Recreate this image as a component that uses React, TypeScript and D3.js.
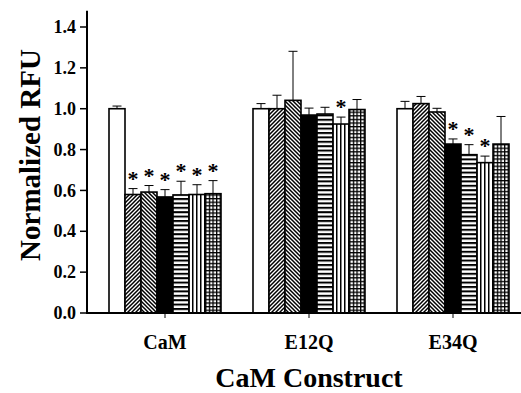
import React from "react";
import * as d3 from "d3";

const categories = ["CaM", "E12Q", "E34Q"];
const seriesIds = ["control", "s2", "s3", "s4", "s5", "s6", "s7"];
const seriesFill = ["white", "url(#diagUp)", "url(#diagDown)", "black", "url(#horiz)", "url(#vert)", "url(#grid)"];

const valuesCaM = [1.0, 0.58, 0.592, 0.568, 0.578, 0.58, 0.584];
const valuesE12Q = [1.0, 1.0, 1.041, 0.969, 0.974, 0.925, 0.996];
const valuesE34Q = [1.0, 1.025, 0.984, 0.827, 0.775, 0.736, 0.827];

const errCaM = [0.013, 0.029, 0.032, 0.036, 0.067, 0.048, 0.064];
const errE12Q = [0.025, 0.066, 0.24, 0.034, 0.033, 0.034, 0.049];
const errE34Q = [0.036, 0.035, 0.018, 0.025, 0.049, 0.032, 0.135];

const sigCaM = [false, true, true, true, true, true, true];
const sigE12Q = [false, false, false, false, false, true, false];
const sigE34Q = [false, false, false, true, true, true, false];

const yTicks = [0, 0.2, 0.4, 0.6, 0.8, 1.0, 1.2, 1.4];

const values = [valuesCaM, valuesE12Q, valuesE34Q];
const errs = [errCaM, errE12Q, errE34Q];
const sigs = [sigCaM, sigE12Q, sigE34Q];

const W = 521;
const H = 393;
const axisX = 87;
const font = "'Liberation Serif', 'Times New Roman', serif";

export default function App() {
  const y = d3.scaleLinear().domain([0, 1.4]).range([313, 27]);
  const x0 = d3.scaleBand<string>().domain(categories).range([93, 525]);
  const x1 = d3
    .scaleBand<string>()
    .domain(seriesIds)
    .range([0, x0.bandwidth()])
    .paddingInner(0)
    .paddingOuter(1);
  const bw = x1.bandwidth();
  const capW = 9;

  return (
    <svg
      width={W}
      height={H}
      style={{ position: "absolute", left: 0, top: 0, background: "white" }}
      fontFamily={font}
    >
      <defs>
        <pattern id="diagUp" patternUnits="userSpaceOnUse" width={4} height={4}>
          <rect width={4} height={4} fill="white" />
          <path d="M-1,1 l2,-2 M0,4 l4,-4 M3,5 l2,-2" stroke="black" strokeWidth={1.5} />
        </pattern>
        <pattern id="diagDown" patternUnits="userSpaceOnUse" width={4} height={4}>
          <rect width={4} height={4} fill="white" />
          <path d="M-1,3 l2,2 M0,0 l4,4 M3,-1 l2,2" stroke="black" strokeWidth={1.5} />
        </pattern>
        <pattern id="horiz" patternUnits="userSpaceOnUse" width={4} height={4.4}>
          <rect width={4} height={4.4} fill="white" />
          <rect y={0} width={4} height={2} fill="black" />
        </pattern>
        <pattern id="vert" patternUnits="userSpaceOnUse" width={4} height={4}>
          <rect width={4} height={4} fill="white" />
          <rect x={0} width={1.5} height={4} fill="black" />
        </pattern>
        <pattern id="grid" patternUnits="userSpaceOnUse" width={3.6} height={3.6}>
          <rect width={3.6} height={3.6} fill="white" />
          <rect x={0} width={1.3} height={3.6} fill="black" />
          <rect y={0} width={3.6} height={1.3} fill="black" />
        </pattern>
      </defs>

      {/* error bars */}
      {categories.map((c, ci) =>
        seriesIds.map((s, si) => {
          const v = values[ci][si];
          const e = errs[ci][si];
          const cx = (x0(c) as number) + (x1(s) as number) + bw / 2;
          return (
            <g key={`e-${c}-${s}`} stroke="black" strokeWidth={1}>
              <line x1={cx} x2={cx} y1={y(v)} y2={y(v + e)} />
              <line x1={cx - capW / 2} x2={cx + capW / 2} y1={y(v + e)} y2={y(v + e)} />
            </g>
          );
        })
      )}

      {/* bars */}
      {categories.map((c, ci) =>
        seriesIds.map((s, si) => {
          const v = values[ci][si];
          const bx = (x0(c) as number) + (x1(s) as number);
          return (
            <rect
              key={`b-${c}-${s}`}
              x={bx}
              y={y(v)}
              width={bw}
              height={y(0) - y(v)}
              fill={seriesFill[si]}
              stroke="black"
              strokeWidth={1.6}
            />
          );
        })
      )}

      {/* significance stars */}
      {categories.map((c, ci) =>
        seriesIds.map((s, si) => {
          if (!sigs[ci][si]) return null;
          const v = values[ci][si];
          const e = errs[ci][si];
          const cx = (x0(c) as number) + (x1(s) as number) + bw / 2;
          return (
            <text
              key={`s-${c}-${s}`}
              x={cx}
              y={y(v + e) - 3}
              textAnchor="middle"
              fontSize={22}
              fontWeight="bold"
              fill="black"
              fontFamily={font}
            >
              *
            </text>
          );
        })
      )}

      {/* y axis */}
      <line x1={axisX} x2={axisX} y1={y(0) + 1} y2={y(1.48)} stroke="black" strokeWidth={2} />
      {yTicks.map((t) => (
        <g key={`t-${t}`}>
          <line x1={axisX - 7} x2={axisX} y1={y(t)} y2={y(t)} stroke="black" strokeWidth={1.5} />
          <text
            x={axisX - 11}
            y={y(t)}
            dy="0.34em"
            textAnchor="end"
            fontSize={18}
            fontWeight="bold"
          >
            {t.toFixed(1)}
          </text>
        </g>
      ))}

      {/* x axis */}
      <line x1={axisX - 1} x2={W} y1={y(0)} y2={y(0)} stroke="black" strokeWidth={2} />
      {categories.map((c) => {
        const cx = (x0(c) as number) + x0.bandwidth() / 2;
        return (
          <g key={`xc-${c}`}>
            <line x1={cx} x2={cx} y1={y(0)} y2={y(0) + 5} stroke="black" strokeWidth={1} />
            <text x={cx} y={349} textAnchor="middle" fontSize={20} fontWeight="bold">
              {c}
            </text>
          </g>
        );
      })}

      <text x={309} y={387} textAnchor="middle" fontSize={28} fontWeight="bold">
        CaM Construct
      </text>
      <text
        transform={`translate(30, 155) rotate(-90)`}
        textAnchor="middle"
        dominantBaseline="central"
        fontSize={29}
        fontWeight="bold"
      >
        Normalized RFU
      </text>
    </svg>
  );
}
